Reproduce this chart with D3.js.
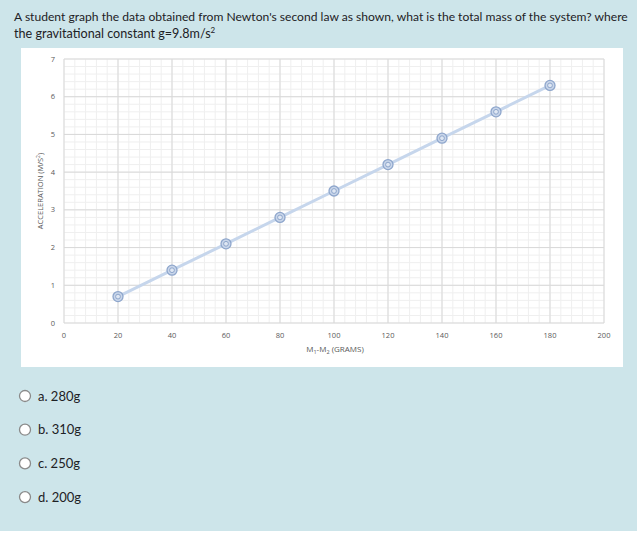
<!DOCTYPE html>
<html>
<head>
<meta charset="utf-8">
<script src="https://cdn.jsdelivr.net/npm/d3@7"></script>
<style>
  body { margin: 0; background: #cde5ea; }
  svg { display: block; }
</style>
</head>
<body>
<svg id="page" width="637" height="553"></svg>
<script>
// Data
var massDiff = [20, 40, 60, 80, 100, 120, 140, 160, 180];
var accel = [0.7, 1.4, 2.1, 2.8, 3.5, 4.2, 4.9, 5.6, 6.3];
var xTicks = [0, 20, 40, 60, 80, 100, 120, 140, 160, 180, 200];
var yTicks = [0, 1, 2, 3, 4, 5, 6, 7];
var options = ["a. 280g", "b. 310g", "c. 250g", "d. 200g"];

var svg = d3.select("#page");
var uiFont = "Lato, 'Noto Sans', sans-serif";

// Question text
var q = svg.append("text")
    .attr("font-family", uiFont)
    .attr("font-size", 12.1)
    .attr("fill", "#1d2125");
q.append("tspan").attr("x", 14).attr("y", 21)
    .text("A student graph the data obtained from Newton's second law as shown, what is the total mass of the system? where");
q.append("tspan").attr("x", 14).attr("y", 38)
    .attr("font-size", 12.6)
    .text("the gravitational constant g=9.8m/s");
q.append("tspan").attr("dy", -5).attr("font-size", 8).text("2");

// Chart panel
svg.append("rect")
    .attr("x", 21).attr("y", 48)
    .attr("width", 602).attr("height", 319)
    .attr("fill", "#fff");

var x = d3.scaleLinear().domain([0, 200]).range([64, 604]);
var y = d3.scaleLinear().domain([0, 7]).range([323, 59]);

// Minor grid
var g = svg.append("g");
g.selectAll(".xminor").data(d3.range(0, 201, 4)).join("line")
    .attr("x1", function(d) { return x(d); }).attr("x2", function(d) { return x(d); })
    .attr("y1", y(0)).attr("y2", y(7))
    .attr("stroke", "#efefef").attr("stroke-width", 1);
g.selectAll(".yminor").data(d3.range(0, 35.1, 1)).join("line")
    .attr("x1", x(0)).attr("x2", x(200))
    .attr("y1", function(d) { return y(d / 5); }).attr("y2", function(d) { return y(d / 5); })
    .attr("stroke", "#efefef").attr("stroke-width", 1);

// Major grid
g.selectAll(".xmajor").data(xTicks).join("line")
    .attr("x1", function(d) { return x(d); }).attr("x2", function(d) { return x(d); })
    .attr("y1", y(0)).attr("y2", y(7))
    .attr("stroke", "#d9d9d9").attr("stroke-width", 1);
g.selectAll(".ymajor").data(yTicks).join("line")
    .attr("x1", x(0)).attr("x2", x(200))
    .attr("y1", function(d) { return y(d); }).attr("y2", function(d) { return y(d); })
    .attr("stroke", "#d9d9d9").attr("stroke-width", 1);

// Tick labels
var tickFont = "'Open Sans', 'Liberation Sans', sans-serif";
svg.append("g").selectAll("text").data(xTicks).join("text")
    .attr("x", function(d) { return x(d); })
    .attr("y", 338)
    .attr("text-anchor", "middle")
    .attr("font-family", tickFont).attr("font-size", 7.5)
    .attr("fill", "#595959")
    .text(function(d) { return d; });
svg.append("g").selectAll("text").data(yTicks).join("text")
    .attr("x", 55)
    .attr("y", function(d) { return y(d) + 2.5; })
    .attr("text-anchor", "end")
    .attr("font-family", tickFont).attr("font-size", 7.5)
    .attr("fill", "#595959")
    .text(function(d) { return d; });

// Axis titles
var xt = svg.append("text")
    .attr("x", 335).attr("y", 352)
    .attr("text-anchor", "middle")
    .attr("font-family", tickFont).attr("font-size", 8)
    .attr("fill", "#595959");
xt.append("tspan").text("M");
xt.append("tspan").attr("dy", 2).attr("font-size", 5.5).text("1");
xt.append("tspan").attr("dy", -2).text("-M");
xt.append("tspan").attr("dy", 2).attr("font-size", 5.5).text("2");
xt.append("tspan").attr("dy", -2).text(" (GRAMS)");

var yt = svg.append("text")
    .attr("transform", "translate(43," + 191 + ") rotate(-90)")
    .attr("text-anchor", "middle")
    .attr("font-family", tickFont).attr("font-size", 7.5)
    .attr("fill", "#595959");
yt.append("tspan").text("ACCELERATION (M/S");
yt.append("tspan").attr("dy", -3).attr("font-size", 5).text("2");
yt.append("tspan").attr("dy", 3).text(")");

// Series line
var pts = massDiff.map(function(d, i) { return [d, accel[i]]; });
svg.append("path")
    .datum(pts)
    .attr("d", d3.line().x(function(d) { return x(d[0]); }).y(function(d) { return y(d[1]); }))
    .attr("fill", "none")
    .attr("stroke", "#c6d6ec")
    .attr("stroke-width", 3);

// Markers
var m = svg.append("g").selectAll("g").data(pts).join("g")
    .attr("transform", function(d) { return "translate(" + x(d[0]) + "," + y(d[1]) + ")"; });
m.append("circle").attr("r", 5)
    .attr("fill", "#c9d6ea").attr("stroke", "#8ea6cc").attr("stroke-width", 1.3);
m.append("circle").attr("r", 2.4)
    .attr("fill", "#dfe7f3").attr("stroke", "#8ea6cc").attr("stroke-width", 1);

// Answer options
var opt = svg.append("g").selectAll("g").data(options).join("g")
    .attr("transform", function(d, i) { return "translate(0," + (396 + i * 33.7) + ")"; });
opt.append("circle").attr("cx", 25).attr("cy", 0).attr("r", 5.5)
    .attr("fill", "#fff").attr("stroke", "#8a8a8a").attr("stroke-width", 1.3);
opt.append("text").attr("x", 38).attr("y", 4.5)
    .attr("font-family", uiFont).attr("font-size", 13)
    .attr("fill", "#1d2125")
    .text(function(d) { return d; });

// White strip at bottom
svg.append("rect").attr("x", 0).attr("y", 531).attr("width", 637).attr("height", 22).attr("fill", "#fff");
</script>
</body>
</html>
